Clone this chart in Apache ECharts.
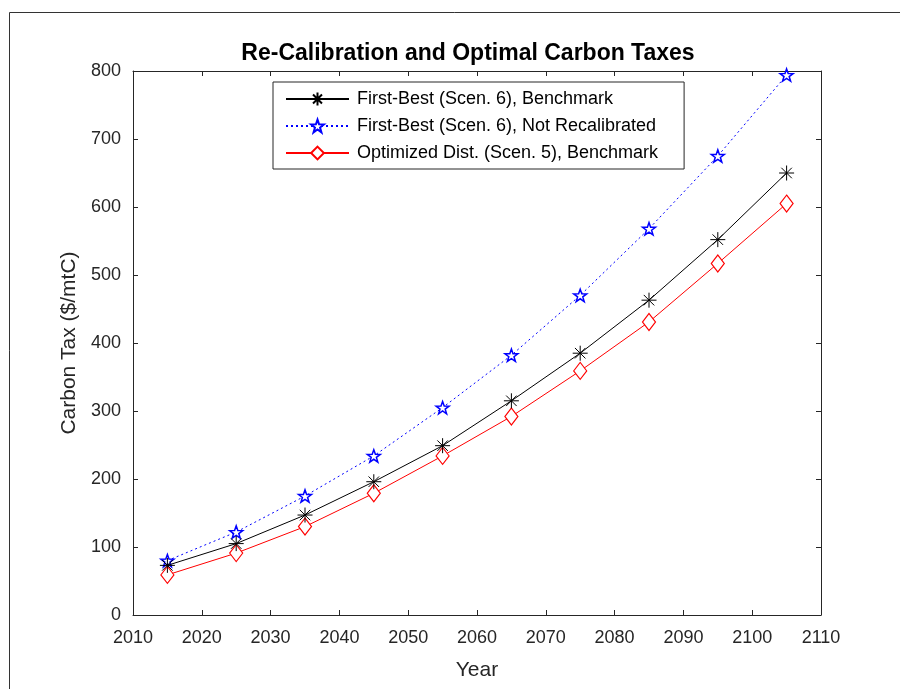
<!DOCTYPE html>
<html>
<head>
<meta charset="utf-8">
<script src="https://cdn.jsdelivr.net/npm/echarts@6/dist/echarts.min.js"></script>
<style>html,body{margin:0;padding:0;background:#fff;}#c{width:900px;height:689px;}</style>
</head>
<body>
<div id="c"></div>
<script>
const years = [2015, 2025, 2035, 2045, 2055, 2065, 2075, 2085, 2095, 2105];
const firstBestBenchmark = [73, 105, 147, 196, 249, 315, 385, 463, 552, 650];
const firstBestNotRecal = [80, 122, 175, 234, 305, 382, 470, 568, 675, 794];
const optimizedDist = [59, 91, 130, 179, 234, 292, 359, 431, 517, 605];
const seriesNames = [
  'First-Best (Scen. 6), Benchmark',
  'First-Best (Scen. 6), Not Recalibrated',
  'Optimized Dist. (Scen. 5), Benchmark'
];
const titleText = 'Re-Calibration and Optimal Carbon Taxes';
const xName = 'Year';
const yName = 'Carbon Tax ($/mtC)';

const pair = arr => years.map((y, i) => [y, arr[i]]);
const AX = '#262626';
const FONT = '"Liberation Sans", Arial, sans-serif';
const asterisk = 'path://M0,5 L10,5 M5,0 L5,10 M1.5,1.5 L8.5,8.5 M1.5,8.5 L8.5,1.5';
const star = 'path://M10,0 L12.35,6.76 L19.51,6.91 L13.8,11.24 L15.88,18.09 L10,14 L4.12,18.09 L6.2,11.24 L0.49,6.91 L7.65,6.76 Z';

const baseX = {
  type: 'value', min: 2010, max: 2110, interval: 10,
  axisLine: {show: true, onZero: false, lineStyle: {color: AX, width: 1}},
  axisTick: {show: true, inside: true, length: 5, lineStyle: {color: AX}},
  splitLine: {show: false}
};
const baseY = {
  type: 'value', min: 0, max: 800, interval: 100,
  axisLine: {show: true, onZero: false, lineStyle: {color: AX, width: 1}},
  axisTick: {show: true, inside: true, length: 5, lineStyle: {color: AX}},
  splitLine: {show: false}
};

const chart = echarts.init(document.getElementById('c'), null, {renderer: 'canvas'});
chart.setOption({
  animation: false,
  backgroundColor: '#fff',
  textStyle: {fontFamily: FONT},
  title: {
    text: titleText, left: 468, top: 42, padding: 0, textAlign: 'center',
    textStyle: {fontFamily: FONT, fontSize: 23, fontWeight: 'bold', color: '#000'}
  },
  grid: {left: 133, right: 79, top: 71, bottom: 74, containLabel: false},
  xAxis: [
    Object.assign({}, baseX, {
      position: 'bottom', name: xName, nameLocation: 'middle', nameGap: 45,
      nameTextStyle: {fontFamily: FONT, fontSize: 21, color: AX},
      axisLabel: {show: true, margin: 14, fontFamily: FONT, fontSize: 18, color: AX,
        formatter: v => String(v)}
    }),
    Object.assign({}, baseX, {position: 'top', axisLabel: {show: false}})
  ],
  yAxis: [
    Object.assign({}, baseY, {
      position: 'left', name: yName, nameLocation: 'middle', nameGap: 53,
      nameTextStyle: {fontFamily: FONT, fontSize: 21, color: AX},
      axisLabel: {show: true, margin: 12, fontFamily: FONT, fontSize: 18, color: AX,
        formatter: v => String(v)}
    }),
    Object.assign({}, baseY, {position: 'right', axisLabel: {show: false}})
  ],
  legend: {
    orient: 'vertical', left: 273, top: 82,
    padding: [8, 26, 7, 12],
    itemWidth: 63, itemHeight: 16, itemGap: 9,
    borderColor: AX, borderWidth: 1, backgroundColor: '#fff',
    textStyle: {fontFamily: FONT, fontSize: 18, color: '#000', padding: [0, 0, 0, 3]},
    data: seriesNames
  },
  graphic: [{
    type: 'polyline', silent: true,
    shape: {points: [[9.5, 689], [9.5, 12.5], [900, 12.5]]},
    style: {stroke: '#333', lineWidth: 1, fill: null}
  }],
  series: [
    {
      name: seriesNames[0], type: 'line', data: pair(firstBestBenchmark),
      symbol: asterisk, symbolSize: 15, symbolKeepAspect: true,
      lineStyle: {color: '#000', width: 1, type: 'solid'},
      itemStyle: {color: '#000', borderColor: '#000', borderWidth: 1},
      z: 3
    },
    {
      name: seriesNames[1], type: 'line', data: pair(firstBestNotRecal),
      symbol: star, symbolSize: 13, symbolKeepAspect: true,
      lineStyle: {color: '#0000ff', width: 1, type: [2, 3]},
      itemStyle: {color: '#fff', borderColor: '#0000ff', borderWidth: 1.5},
      z: 2
    },
    {
      name: seriesNames[2], type: 'line', data: pair(optimizedDist),
      symbol: 'diamond', symbolSize: [13, 17],
      lineStyle: {color: '#ff0000', width: 1, type: 'solid'},
      itemStyle: {color: '#fff', borderColor: '#ff0000', borderWidth: 1.2},
      z: 2
    }
  ]
});
</script>
</body>
</html>
